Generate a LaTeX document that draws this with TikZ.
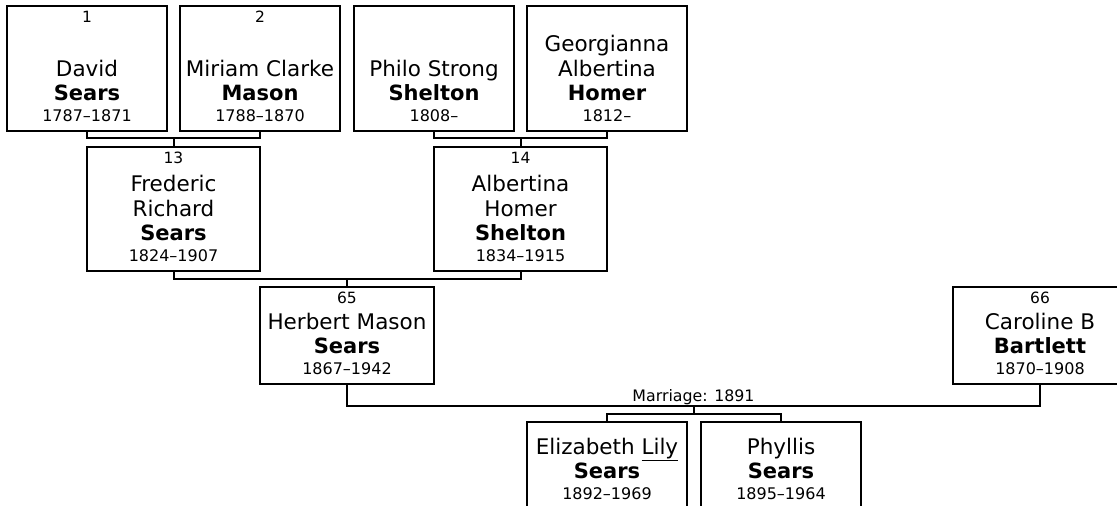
\documentclass[tikz,border=0pt]{standalone}
\usepackage{fontspec}
\setmainfont{DejaVu Sans}

\begin{document}
\begin{tikzpicture}[x=1pt, y=-1pt, line width=2pt,
    box/.style={draw, inner sep=0pt},
    top/.style={box, minimum width=160pt, minimum height=125pt},
    mid/.style={box, minimum width=173pt, minimum height=124pt},
    par/.style={box, minimum width=174pt, minimum height=97pt},
    kid/.style={box, minimum width=160pt, minimum height=87pt},
    num/.style={anchor=base, inner sep=0pt, font=\fontsize{15.5}{18}\selectfont},
    nm/.style={anchor=base, inner sep=0pt, font=\fontsize{21.5}{25}\selectfont},
    sur/.style={nm, font=\fontsize{21}{25}\selectfont\bfseries},
    yr/.style={anchor=base, inner sep=0pt, font=\fontsize{16}{19}\selectfont}]
  \useasboundingbox (0,0) rectangle (1117,506);
  \clip (0,0) rectangle (1117,506);

  % Generacion de los bisabuelos
  \node[top] (david) at (87,68.5) {};
  \node[num] (david-n) at ([yshift=-17.5pt]david.north) {1};
  \node[nm]  (david-a) at ([yshift=56pt]david.south) {David};
  \node[sur] (david-b) at ([yshift=31.5pt]david.south) {Sears};
  \node[yr]  (david-c) at ([yshift=11pt]david.south) {1787–1871};

  \node[top] (miriam) at (260,68.5) {};
  \node[num] (miriam-n) at ([yshift=-17.5pt]miriam.north) {2};
  \node[nm]  (miriam-a) at ([yshift=56pt]miriam.south) {Miriam Clarke};
  \node[sur] (miriam-b) at ([yshift=31.5pt]miriam.south) {Mason};
  \node[yr]  (miriam-c) at ([yshift=11pt]miriam.south) {1788–1870};

  \node[top] (philo) at (434,68.5) {};
  \node[nm]  (philo-a) at ([yshift=56pt]philo.south) {Philo Strong};
  \node[sur] (philo-b) at ([yshift=31.5pt]philo.south) {Shelton};
  \node[yr]  (philo-c) at ([yshift=11pt]philo.south) {1808–};

  \node[top] (georg) at (607,68.5) {};
  \node[nm]  (georg-a) at ([yshift=81pt]georg.south) {Georgianna};
  \node[nm]  (georg-b) at ([yshift=56pt]georg.south) {Albertina};
  \node[sur] (georg-c) at ([yshift=31.5pt]georg.south) {Homer};
  \node[yr]  (georg-d) at ([yshift=11pt]georg.south) {1812–};

  % Abuelos
  \node[mid] (frederic) at (173.5,209) {};
  \node[num] (frederic-n) at ([yshift=-17.5pt]frederic.north) {13};
  \node[nm]  (frederic-a) at ([yshift=81pt]frederic.south) {Frederic};
  \node[nm]  (frederic-b) at ([yshift=56pt]frederic.south) {Richard};
  \node[sur] (frederic-c) at ([yshift=31.5pt]frederic.south) {Sears};
  \node[yr]  (frederic-d) at ([yshift=11pt]frederic.south) {1824–1907};

  \node[mid] (albertina) at (520.5,209) {};
  \node[num] (albertina-n) at ([yshift=-17.5pt]albertina.north) {14};
  \node[nm]  (albertina-a) at ([yshift=81pt]albertina.south) {Albertina};
  \node[nm]  (albertina-b) at ([yshift=56pt]albertina.south) {Homer};
  \node[sur] (albertina-c) at ([yshift=31.5pt]albertina.south) {Shelton};
  \node[yr]  (albertina-d) at ([yshift=11pt]albertina.south) {1834–1915};

  % Padres
  \node[par] (herbert) at (347,335.5) {};
  \node[num] (herbert-n) at ([yshift=-17.5pt]herbert.north) {65};
  \node[nm]  (herbert-a) at ([yshift=56pt]herbert.south) {Herbert Mason};
  \node[sur] (herbert-b) at ([yshift=31.5pt]herbert.south) {Sears};
  \node[yr]  (herbert-c) at ([yshift=11pt]herbert.south) {1867–1942};

  \node[par] (caroline) at (1040,335.5) {};
  \node[num] (caroline-n) at ([yshift=-17.5pt]caroline.north) {66};
  \node[nm]  (caroline-a) at ([yshift=56pt]caroline.south) {Caroline B};
  \node[sur] (caroline-b) at ([yshift=31.5pt]caroline.south) {Bartlett};
  \node[yr]  (caroline-c) at ([yshift=11pt]caroline.south) {1870–1908};

  % Hijas
  \node[kid] (elizabeth) at (607,465.5) {};
  \node[nm]  (elizabeth-a) at ([yshift=56pt]elizabeth.south) {Elizabeth \underline{Lily}};
  \node[sur] (elizabeth-b) at ([yshift=31.5pt]elizabeth.south) {Sears};
  \node[yr]  (elizabeth-c) at ([yshift=11pt]elizabeth.south) {1892–1969};

  \node[kid] (phyllis) at (781,465.5) {};
  \node[nm]  (phyllis-a) at ([yshift=56pt]phyllis.south) {Phyllis};
  \node[sur] (phyllis-b) at ([yshift=31.5pt]phyllis.south) {Sears};
  \node[yr]  (phyllis-c) at ([yshift=11pt]phyllis.south) {1895–1964};

  % Lineas de union
  \coordinate (u1) at (173.5,138);
  \coordinate (u2) at (520.5,138);
  \coordinate (u3) at (347,279);
  \coordinate (u4) at (693.5,406);
  \coordinate (u5) at (693.5,414);

  \draw (david.south) |- (u1) -| (miriam.south);
  \draw (u1) -- (frederic.north);
  \draw (philo.south) |- (u2) -| (georg.south);
  \draw (u2) -- (albertina.north);
  \draw (frederic.south) |- (u3) -| (albertina.south);
  \draw (u3) -- (herbert.north);
  \draw (herbert.south) |- (u4) -| (caroline.south);
  \node[num, font=\fontsize{15.8}{18}\selectfont] (boda) at (693.5,401) {Marriage: 1891};
  \draw (u4) -- (u5);
  \draw (elizabeth.north) |- (u5) -| (phyllis.north);
\end{tikzpicture}
\end{document}
